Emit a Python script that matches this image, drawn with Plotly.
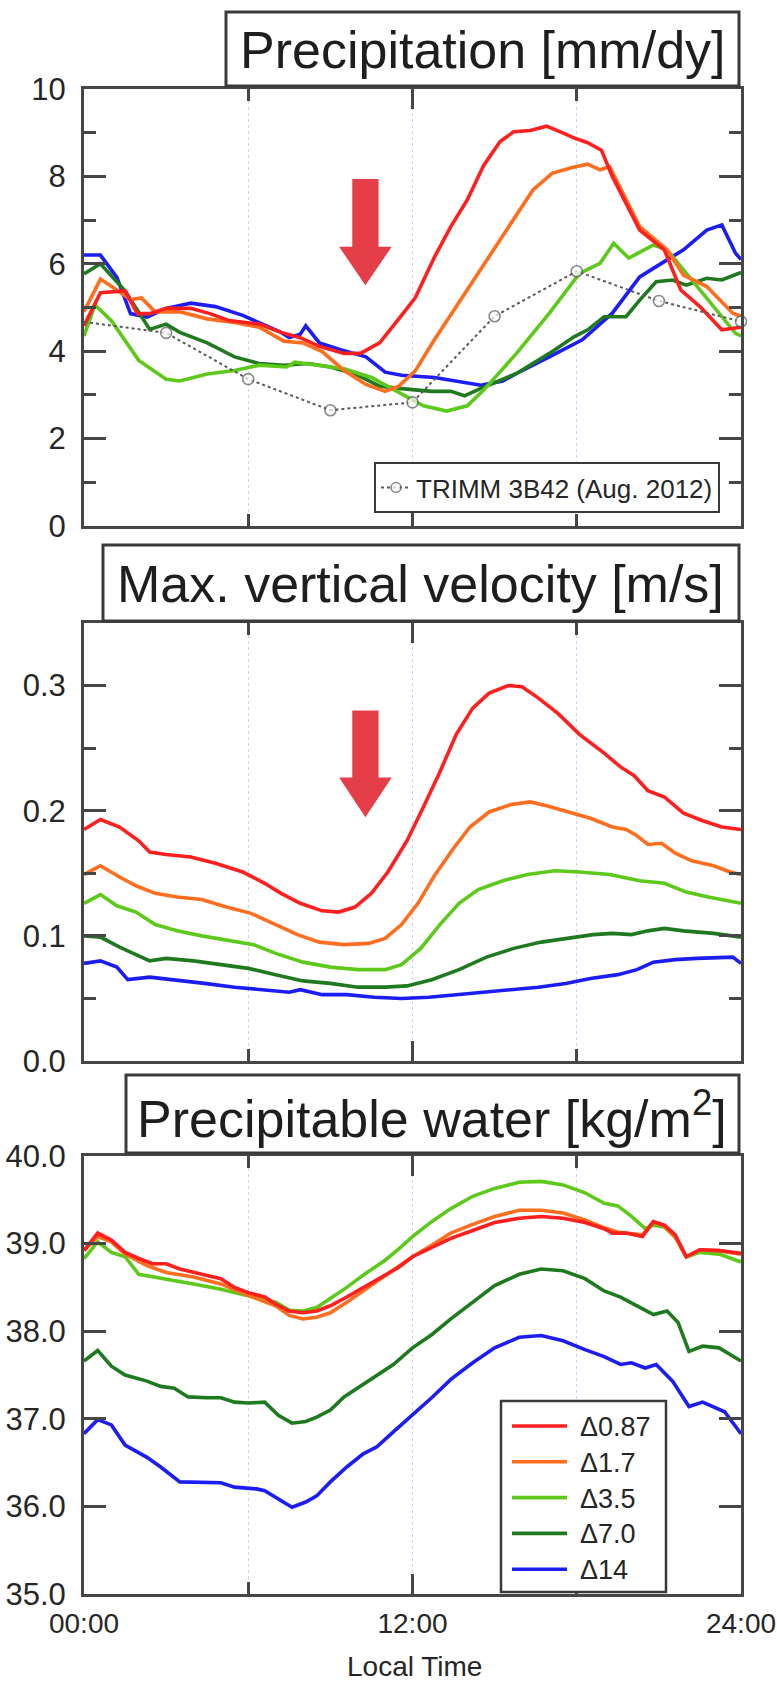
import plotly.graph_objects as go

W, H = 777, 1684

# ---------------- series definitions ----------------
NAMES = ["Δ0.87", "Δ1.7", "Δ3.5", "Δ7.0", "Δ14"]
COLORS = ["#FF1F1F", "#FF6E1E", "#5DC91A", "#1F7A1F", "#1C1CF5"]

# Precipitation [mm/dy]
PR_H_087 = [0, 0.6, 1.5, 1.95, 2.4, 3.0, 3.9, 4.6, 5.3, 6.4, 7.2, 7.9, 8.6, 9.5, 10.1, 10.8, 11.5, 12.1, 12.8,
            13.4, 14.0, 14.6, 15.2, 15.7, 16.3, 16.9, 17.4, 17.9, 18.4, 18.9, 19.3, 20.3, 21.2, 21.8, 22.5, 23.3, 24]
PR_V_087 = [4.58, 5.34, 5.38, 4.86, 4.86, 4.98, 4.98, 4.86, 4.70, 4.62, 4.43, 4.31, 4.11, 3.95, 3.95, 4.19, 4.74,
            5.22, 6.15, 6.85, 7.46, 8.25, 8.80, 9.02, 9.05, 9.15, 9.02, 8.88, 8.77, 8.60, 8.00, 6.77, 6.32, 5.40,
            5.02, 4.49, 4.55]
PR_H_17 = [0, 0.6, 1.2, 1.7, 2.1, 2.6, 3.5, 4.5, 5.5, 6.4, 7.3, 8.0, 8.7, 9.5, 10.3, 11.0, 11.5, 12.1, 12.8, 14.0,
           15.2, 16.4, 17.1, 17.8, 18.4, 18.85, 19.2, 19.7, 20.3, 21.3, 21.9, 22.75, 23.7, 24]
PR_V_17 = [4.90, 5.65, 5.40, 5.18, 5.22, 4.90, 4.90, 4.74, 4.66, 4.55, 4.23, 4.19, 3.99, 3.56, 3.24, 3.08, 3.20,
           3.55, 4.26, 5.40, 6.54, 7.69, 8.07, 8.20, 8.28, 8.15, 8.22, 7.59, 6.85, 6.32, 5.74, 5.48, 4.87, 4.80]
PR_H_35 = [0, 0.4, 1.0, 2.0, 3.0, 3.5, 4.5, 5.5, 6.4, 7.4, 7.7, 8.5, 9.5, 10.5, 11.5, 12.4, 13.25, 14.0, 14.6,
           15.8, 17.0, 18.1, 18.85, 19.35, 19.9, 20.8, 21.3, 22.5, 23.8, 24]
PR_V_35 = [4.35, 5.06, 4.70, 3.79, 3.36, 3.32, 3.48, 3.56, 3.68, 3.64, 3.75, 3.68, 3.60, 3.40, 3.05, 2.75, 2.63,
           2.75, 3.11, 3.95, 4.87, 5.78, 6.01, 6.47, 6.13, 6.43, 6.32, 5.40, 4.41, 4.35]
PR_H_70 = [0, 0.6, 1.5, 2.4, 3.0, 3.5, 4.5, 5.5, 6.4, 7.3, 8.2, 9.0, 9.9, 10.8, 11.5, 12.7, 13.4, 13.9, 14.5,
           15.8, 17.0, 17.9, 18.4, 19.0, 19.8, 20.3, 20.9, 21.5, 22.0, 22.75, 23.3, 24]
PR_V_70 = [5.77, 6.00, 5.38, 4.50, 4.62, 4.43, 4.19, 3.87, 3.72, 3.68, 3.72, 3.64, 3.48, 3.20, 3.15, 3.08, 3.08,
           2.98, 3.15, 3.49, 3.95, 4.33, 4.49, 4.79, 4.79, 5.17, 5.59, 5.63, 5.51, 5.67, 5.63, 5.80]
PR_H_14 = [0, 0.6, 1.2, 1.7, 2.3, 3.0, 3.9, 4.8, 5.8, 6.5, 7.2, 7.5, 7.9, 8.1, 8.6, 9.4, 10.3, 11.0, 11.6, 12.8,
           13.7, 14.5, 15.3, 15.8, 17.0, 18.2, 19.3, 20.3, 21.3, 21.9, 22.75, 23.3, 23.8, 24]
PR_V_14 = [6.20, 6.20, 5.69, 4.86, 4.78, 4.98, 5.10, 5.02, 4.82, 4.62, 4.43, 4.31, 4.39, 4.58, 4.19, 4.03, 3.87,
           3.52, 3.45, 3.40, 3.30, 3.22, 3.32, 3.49, 3.87, 4.26, 4.87, 5.70, 6.09, 6.32, 6.77, 6.89, 6.24, 6.10]

# TRMM 3B42 observed diurnal cycle (3-hourly)
TRMM_H = [0, 3, 6, 9, 12, 15, 18, 21, 24]
TRMM_V = [4.67, 4.42, 3.36, 2.65, 2.83, 4.80, 5.83, 5.15, 4.68]

# Max. vertical velocity [m/s]
VV_H_087 = [0, 0.6, 1.3, 2.0, 2.4, 3.0, 3.9, 4.8, 5.8, 6.6, 7.2, 7.9, 8.7, 9.3, 9.9, 10.5, 11.1, 11.8, 12.4, 13.0,
            13.6, 14.2, 14.8, 15.5, 16.0, 16.6, 17.3, 18.1, 19.0, 19.6, 20.1, 20.6, 21.2, 21.9, 22.6, 23.3, 24]
VV_V_087 = [.185, .193, .187, .176, .167, .165, .163, .158, .151, .142, .134, .126, .120, .119, .123, .134, .151,
            .176, .203, .231, .261, .282, .294, .300, .299, .290, .278, .261, .246, .235, .228, .216, .211, .198,
            .192, .187, .185]
VV_H_17 = [0, 0.6, 1.3, 1.9, 2.6, 3.4, 4.3, 5.2, 6.1, 7.0, 7.8, 8.6, 9.5, 10.4, 11.0, 11.6, 12.2, 12.8, 13.5, 14.1,
           14.8, 15.6, 16.3, 16.9, 17.8, 18.5, 19.3, 19.8, 20.2, 20.6, 21.1, 21.6, 22.2, 23.0, 23.6, 24]
VV_V_17 = [.149, .156, .147, .140, .134, .131, .129, .123, .118, .109, .101, .095, .093, .094, .098, .109, .126,
           .148, .170, .187, .199, .205, .207, .204, .198, .194, .187, .185, .180, .173, .174, .166, .160, .156,
           .151, .149]
VV_H_35 = [0, 0.6, 1.2, 1.9, 2.6, 3.4, 4.3, 5.2, 6.2, 7.0, 8.0, 9.0, 10.0, 11.0, 11.6, 12.3, 13.0, 13.7, 14.4,
           15.3, 16.2, 17.2, 18.1, 19.2, 20.3, 21.2, 22.0, 22.8, 24]
VV_V_35 = [.126, .133, .124, .119, .109, .104, .100, .097, .093, .086, .079, .075, .073, .073, .077, .090, .109,
           .126, .137, .144, .149, .152, .151, .149, .144, .142, .135, .131, .126]
VV_H_70 = [0, 0.6, 1.3, 2.4, 3.0, 4.0, 5.0, 6.0, 7.0, 8.0, 9.0, 10.0, 11.0, 11.8, 12.7, 13.7, 14.7, 15.7, 16.7,
           17.6, 18.6, 19.3, 20.0, 20.6, 21.2, 21.9, 23.0, 24]
VV_V_70 = [.100, .099, .091, .080, .082, .080, .077, .074, .069, .064, .062, .059, .059, .060, .065, .073, .083,
           .090, .095, .098, .101, .102, .101, .104, .106, .104, .102, .099]
VV_H_14 = [0, 0.6, 1.2, 1.6, 2.4, 3.3, 4.4, 5.5, 6.5, 7.5, 7.9, 8.7, 9.6, 10.6, 11.6, 12.6, 13.6, 14.6, 15.6, 16.6,
           17.6, 18.5, 19.5, 20.2, 20.8, 21.6, 22.4, 23.3, 23.7, 24]
VV_V_14 = [.078, .080, .075, .065, .067, .065, .062, .059, .057, .055, .057, .053, .053, .051, .050, .051, .053,
           .055, .057, .059, .062, .066, .069, .073, .079, .081, .082, .083, .083, .078]

# Precipitable water [kg/m2]
PW_H_087 = [0, 0.5, 1.0, 1.5, 2.0, 2.5, 3.0, 3.5, 4.3, 5.0, 5.5, 6.0, 6.6, 7.0, 7.5, 8.0, 8.5, 9.0, 9.6, 10.2, 10.8,
            11.5, 12.0, 12.7, 13.4, 14.2, 15.0, 15.9, 16.7, 17.5, 18.3, 19.0, 19.3, 19.8, 20.4, 20.8, 21.2, 21.6,
            22.0, 22.5, 23.2, 24]
PW_V_087 = [38.92, 39.12, 39.04, 38.90, 38.83, 38.77, 38.77, 38.71, 38.65, 38.60, 38.50, 38.44, 38.39, 38.31,
            38.23, 38.21, 38.23, 38.29, 38.39, 38.50, 38.60, 38.73, 38.85, 38.96, 39.06, 39.15, 39.24, 39.29,
            39.31, 39.29, 39.24, 39.17, 39.12, 39.12, 39.08, 39.25, 39.21, 39.10, 38.85, 38.93, 38.92, 38.89]
PW_H_17 = [0, 0.5, 1.0, 1.5, 2.3, 3.0, 4.0, 5.0, 6.0, 7.0, 7.5, 8.0, 8.5, 9.0, 9.6, 10.2, 10.8, 11.5, 12.0, 12.7,
           13.4, 14.2, 15.0, 15.9, 16.7, 17.5, 18.3, 19.0, 19.5, 20.4, 20.8, 21.2, 21.6, 22.0, 22.5, 23.2, 24]
PW_V_17 = [38.92, 39.08, 39.02, 38.88, 38.75, 38.67, 38.62, 38.54, 38.41, 38.29, 38.18, 38.14, 38.16, 38.21,
           38.33, 38.46, 38.58, 38.73, 38.85, 38.98, 39.12, 39.22, 39.31, 39.38, 39.38, 39.35, 39.27, 39.18,
           39.13, 39.10, 39.25, 39.20, 39.08, 38.85, 38.93, 38.92, 38.88]
PW_H_35 = [0, 0.5, 1.0, 1.5, 2.0, 3.0, 4.0, 5.0, 6.0, 7.0, 7.5, 8.0, 8.5, 9.0, 9.6, 10.2, 11.0, 11.5, 12.0, 12.7,
           13.4, 14.2, 15.0, 15.9, 16.7, 17.5, 18.3, 19.0, 19.5, 20.0, 20.5, 20.8, 21.2, 21.6, 22.0, 22.5, 23.2, 24]
PW_V_35 = [38.83, 39.02, 38.90, 38.85, 38.65, 38.60, 38.54, 38.48, 38.41, 38.33, 38.24, 38.23, 38.27, 38.37,
           38.50, 38.64, 38.81, 38.94, 39.08, 39.25, 39.40, 39.54, 39.63, 39.70, 39.71, 39.67, 39.58, 39.46,
           39.43, 39.31, 39.17, 39.21, 39.19, 39.07, 38.85, 38.90, 38.88, 38.79]
PW_H_70 = [0, 0.5, 1.0, 1.5, 2.3, 2.8, 3.3, 3.8, 4.5, 5.0, 5.5, 6.0, 6.6, 7.1, 7.6, 8.1, 8.5, 9.0, 9.5, 10.0, 10.6,
           11.3, 12.0, 12.7, 13.4, 14.2, 15.0, 15.9, 16.7, 17.5, 18.3, 19.0, 19.6, 20.2, 20.8, 21.3, 21.7, 22.1,
           22.6, 23.2, 24]
PW_V_70 = [37.66, 37.78, 37.60, 37.50, 37.43, 37.37, 37.35, 37.25, 37.24, 37.24, 37.19, 37.18, 37.19, 37.04,
           36.95, 36.97, 37.02, 37.10, 37.25, 37.35, 37.47, 37.62, 37.81, 37.96, 38.14, 38.33, 38.52, 38.65,
           38.71, 38.69, 38.60, 38.46, 38.39, 38.29, 38.19, 38.23, 38.10, 37.77, 37.83, 37.81, 37.66]
PW_H_14 = [0, 0.5, 1.0, 1.5, 2.3, 2.8, 3.5, 4.5, 5.0, 5.5, 6.3, 6.6, 7.1, 7.6, 8.1, 8.5, 9.0, 9.6, 10.2, 10.7,
           11.3, 12.0, 12.7, 13.4, 14.2, 15.0, 15.9, 16.7, 17.5, 18.3, 19.0, 19.6, 20.0, 20.5, 20.9, 21.5, 22.1,
           22.6, 23.4, 24]
PW_V_14 = [36.83, 36.99, 36.93, 36.70, 36.56, 36.45, 36.28, 36.28, 36.27, 36.22, 36.20, 36.18, 36.08, 35.99,
           36.05, 36.12, 36.28, 36.45, 36.60, 36.68, 36.85, 37.04, 37.24, 37.45, 37.64, 37.81, 37.93, 37.95,
           37.89, 37.79, 37.71, 37.62, 37.64, 37.58, 37.62, 37.43, 37.14, 37.19, 37.08, 36.83]

PANELS = [
    ("Precipitation [mm/dy]",
     [(PR_H_087, PR_V_087), (PR_H_17, PR_V_17), (PR_H_35, PR_V_35), (PR_H_70, PR_V_70), (PR_H_14, PR_V_14)]),
    ("Max. vertical velocity [m/s]",
     [(VV_H_087, VV_V_087), (VV_H_17, VV_V_17), (VV_H_35, VV_V_35), (VV_H_70, VV_V_70), (VV_H_14, VV_V_14)]),
    ("Precipitable water [kg/m<sup>2</sup>]",
     [(PW_H_087, PW_V_087), (PW_H_17, PW_V_17), (PW_H_35, PW_V_35), (PW_H_70, PW_V_70), (PW_H_14, PW_V_14)]),
]

X_TICKS = [0, 12, 24]
X_TICK_LABELS = ["00:00", "12:00", "24:00"]
X_MINOR = [6, 18]

# ---------------- layout geometry (pixels) ----------------
FONT = "Liberation Sans, Arial, Helvetica, sans-serif"
FRAME = "#464646"
TXT = "#262626"
GRID = "rgba(150,150,255,0.45)"
PLOT_L, PLOT_R = 84, 741
PANEL_Y = [(89, 526), (623, 1061), (1156, 1594)]            # top / bottom of each frame
TITLE_BOX = [(226, 12, 739, 86), (103, 545, 739, 621), (126, 1075, 739, 1153)]
Y_AXES = [
    dict(range=[0, 10], dtick=2, tick0=0, tickformat="d", minor_dtick=1),
    dict(range=[0, 0.35], dtick=0.1, tick0=0, tickformat=".1f", minor_dtick=0.05),
    dict(range=[35, 40], dtick=1, tick0=35, tickformat=".1f", minor_dtick=None),
]


def px(x):
    return x / W


def py(y):
    return 1 - y / H


fig = go.Figure()
layout = dict(
    width=W, height=H,
    margin=dict(l=0, r=0, t=0, b=0, autoexpand=False),
    paper_bgcolor="white", plot_bgcolor="white",
    font=dict(family=FONT, color=TXT),
    showlegend=True,
    shapes=[], annotations=[],
)

for i, (title, series) in enumerate(PANELS):
    n = "" if i == 0 else str(i + 1)
    xa, ya = "x" + n, "y" + n
    top, bot = PANEL_Y[i]
    last = i == len(PANELS) - 1

    # series, drawn so that the smallest Δ ends on top
    for k in reversed(range(len(series))):
        hx, vy = series[k]
        fig.add_trace(go.Scatter(
            x=hx, y=vy, mode="lines", name=NAMES[k], showlegend=False,
            line=dict(color=COLORS[k], width=3.6), xaxis=xa, yaxis=ya,
        ))

    layout["xaxis" + n] = dict(
        domain=[px(PLOT_L), px(PLOT_R)], anchor=ya, range=[0, 24], automargin=False,
        tickmode="array", tickvals=X_TICKS, ticktext=X_TICK_LABELS,
        showticklabels=last, ticks="inside", ticklen=20, tickwidth=2.5, tickcolor=FRAME,
        showline=True, linecolor=FRAME, linewidth=3, mirror="ticks",
        showgrid=True, gridcolor=GRID, griddash="dot", gridwidth=1, zeroline=False,
        tickfont=dict(size=28, color=TXT), ticklabelstandoff=2, ticklabeloverflow="allow",
        minor=dict(tickmode="array", tickvals=X_MINOR, ticks="inside", ticklen=12, tickwidth=2.5,
                   tickcolor=FRAME, showgrid=True, gridcolor=GRID, griddash="dot", gridwidth=1),
    )
    yspec = Y_AXES[i]
    yax = dict(
        domain=[py(bot), py(top)], anchor=xa, range=yspec["range"], automargin=False,
        tickmode="linear", tick0=yspec["tick0"], dtick=yspec["dtick"], tickformat=yspec["tickformat"],
        ticks="inside", ticklen=22, tickwidth=2.5, tickcolor=FRAME,
        showline=True, linecolor=FRAME, linewidth=3, mirror="ticks",
        showgrid=False, zeroline=False,
        tickfont=dict(size=31, color=TXT), ticklabelstandoff=9, ticklabeloverflow="allow",
    )
    if yspec["minor_dtick"]:
        yax["minor"] = dict(dtick=yspec["minor_dtick"], ticks="inside", ticklen=12, tickwidth=2.5,
                            tickcolor=FRAME, showgrid=False)
    layout["yaxis" + n] = yax

    # boxed panel title
    x0, y0, x1, y1 = TITLE_BOX[i]
    layout["shapes"].append(dict(type="rect", xref="paper", yref="paper",
                                 x0=px(x0), x1=px(x1), y0=py(y1), y1=py(y0),
                                 line=dict(color="#3a3a3a", width=3), fillcolor="white", layer="above"))
    layout["annotations"].append(dict(xref="paper", yref="paper", x=px((x0 + x1) / 2), y=py((y0 + y1) / 2 + 1),
                                      text=title, showarrow=False, xanchor="center", yanchor="middle",
                                      font=dict(size=52, color="#1e1e1e", family=FONT)))

# TRMM observations on the precipitation panel
fig.add_trace(go.Scatter(
    x=TRMM_H, y=TRMM_V, mode="lines+markers", name="TRIMM 3B42 (Aug. 2012)",
    line=dict(color="#5a5a5a", width=2, dash="dot"),
    marker=dict(symbol="circle", size=[0, 11, 11, 11, 11, 11, 11, 11, 11], color="white",
                line=dict(color="#5a5a5a", width=1.6)),
    cliponaxis=False, xaxis="x", yaxis="y", showlegend=True,
))
layout["legend"] = dict(
    x=px(720), y=py(513), xanchor="right", yanchor="bottom",
    bgcolor="white", bordercolor="#3a3a3a", borderwidth=2,
    font=dict(size=26, color=TXT, family=FONT), itemwidth=30,
)

# red arrows marking the weakened pre-noon convection
ARROW_RED = "#E63E48"
layout["shapes"].append(dict(
    type="path", xref="x", yref="y", fillcolor=ARROW_RED, line=dict(width=0), layer="above",
    path="M 9.8,7.94 L 10.76,7.94 L 10.76,6.39 L 11.24,6.39 L 10.28,5.51 L 9.32,6.39 L 9.8,6.39 Z"))
layout["shapes"].append(dict(
    type="path", xref="x2", yref="y2", fillcolor=ARROW_RED, line=dict(width=0), layer="above",
    path="M 9.8,0.280 L 10.76,0.280 L 10.76,0.2266 L 11.24,0.2266 L 10.28,0.1947 L 9.32,0.2266 L 9.8,0.2266 Z"))

# legend of the resolution experiments, inside the precipitable water panel
LEG_BOX = (501, 1401, 666, 1592)
LEG_ROW0, LEG_ROW_STEP = 1426, 35.8
layout["shapes"].append(dict(type="rect", xref="paper", yref="paper",
                             x0=px(LEG_BOX[0]), x1=px(LEG_BOX[2]), y0=py(LEG_BOX[3]), y1=py(LEG_BOX[1]),
                             line=dict(color="#3a3a3a", width=2.5), fillcolor="white", layer="above"))
for k, (name, color) in enumerate(zip(NAMES, COLORS)):
    yy = LEG_ROW0 + k * LEG_ROW_STEP
    layout["shapes"].append(dict(type="line", xref="paper", yref="paper",
                                 x0=px(512), x1=px(567), y0=py(yy), y1=py(yy),
                                 line=dict(color=color, width=3.6), layer="above"))
    layout["annotations"].append(dict(xref="paper", yref="paper", x=px(578), y=py(yy + 1),
                                      text=name, showarrow=False, xanchor="left", yanchor="middle",
                                      font=dict(size=27, color=TXT, family=FONT)))

# x-axis title
layout["annotations"].append(dict(xref="paper", yref="paper", x=px(414), y=py(1666),
                                  text="Local Time", showarrow=False, xanchor="center", yanchor="middle",
                                  font=dict(size=28, color=TXT, family=FONT)))

fig.update_layout(**layout)
fig.write_html("out.html")
